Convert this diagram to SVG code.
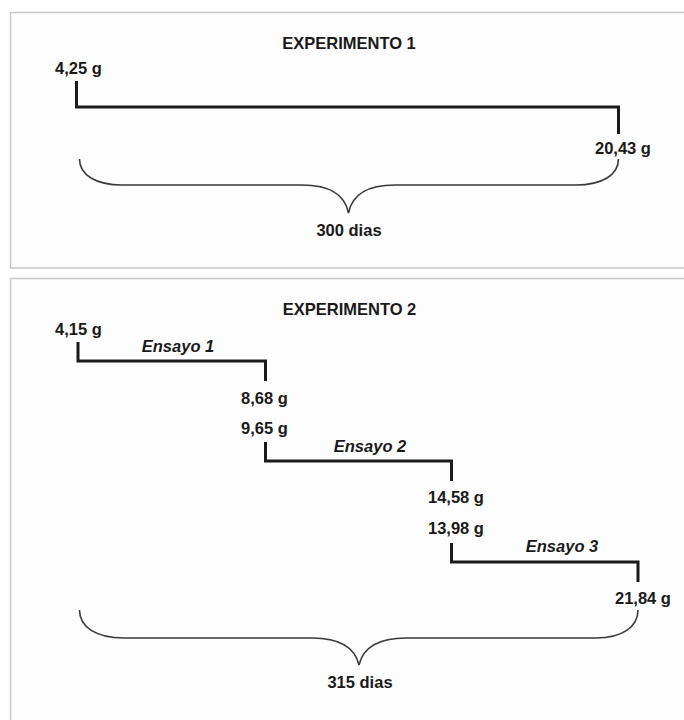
<svg xmlns="http://www.w3.org/2000/svg" width="684" height="720" viewBox="0 0 684 720">
  <style>
    .panel { fill: #fdfdfd; stroke: #c8c8c8; stroke-width: 1.5; }
    .val { font-family: "Liberation Sans", Arial, sans-serif; font-weight: bold; font-size: 16.5px; fill: #1a1a1a; }
    .title { font-family: "Liberation Sans", Arial, sans-serif; font-weight: bold; font-size: 16.5px; fill: #1a1a1a; text-anchor: middle; }
    .ens { font-family: "Liberation Sans", Arial, sans-serif; font-weight: bold; font-style: italic; font-size: 16.5px; fill: #1a1a1a; text-anchor: middle; }
    .step { fill: none; stroke: #1a1a1a; stroke-width: 3; stroke-linejoin: miter; }
    .brace { fill: none; stroke: #3a3a3a; stroke-width: 1.6; }
  </style>
  <rect width="684" height="720" fill="#ffffff"/>

  <g id="panel1">
    <rect class="panel" x="10.5" y="12.5" width="690" height="255.5"/>
    <text class="title" x="349" y="49">EXPERIMENTO 1</text>
  </g>
  <g id="panel2">
    <rect class="panel" x="10.5" y="278.5" width="690" height="460"/>
    <text class="title" x="349.5" y="315">EXPERIMENTO 2</text>
  </g>

  <g id="exp1-start"><text class="val" x="55" y="74">4,25 g</text></g>
  <g id="exp1-end"><text class="val" x="595" y="154">20,43 g</text></g>
  <g id="exp1-duration"><text class="val" x="349" y="236" text-anchor="middle">300 dias</text></g>

  <g id="exp2-start"><text class="val" x="55" y="335">4,15 g</text></g>
  <g id="ensayo1-label"><text class="ens" x="178" y="352">Ensayo 1</text></g>
  <g id="ensayo1-end"><text class="val" x="241" y="404">8,68 g</text></g>
  <g id="ensayo2-start"><text class="val" x="241" y="434">9,65 g</text></g>
  <g id="ensayo2-label"><text class="ens" x="370" y="452">Ensayo 2</text></g>
  <g id="ensayo2-end"><text class="val" x="428" y="503">14,58 g</text></g>
  <g id="ensayo3-start"><text class="val" x="428" y="534">13,98 g</text></g>
  <g id="ensayo3-label"><text class="ens" x="562" y="552">Ensayo 3</text></g>
  <g id="ensayo3-end"><text class="val" x="615" y="604">21,84 g</text></g>
  <g id="exp2-duration"><text class="val" x="360" y="688" text-anchor="middle">315 dias</text></g>

  <g id="connectors">
    <path class="step" d="M76.5,81 V107 H618.5 V134"/>
    <path class="brace" d="M79.5,159 C79.5,175 96,185 122,185 H302 C330,185 345,195 348.5,213 C352,195 367,185 395,185 H576 C602,185 618.5,175 618.5,159"/>

    <path class="step" d="M78,342 V361 H265.5 V381"/>
    <path class="step" d="M265.5,442 V461 H451.5 V481"/>
    <path class="step" d="M451.5,543 V562 H638 V582"/>
    <path class="brace" d="M79.5,610 C79.5,627 96,638 124,638 H312 C340,638 355,648 359,665 C363,648 378,638 406,638 H596 C622,638 638,627 638,610"/>
  </g>
</svg>
